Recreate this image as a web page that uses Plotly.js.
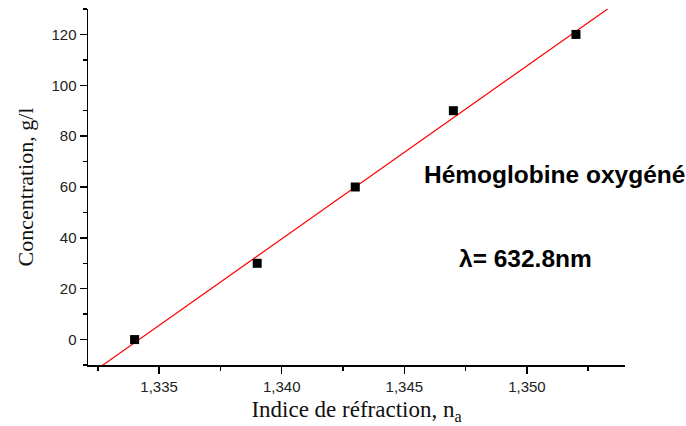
<!DOCTYPE html>
<html>
<head>
<meta charset="utf-8">
<script src="https://cdn.plot.ly/plotly-3.0.1.min.js"></script>
<style>html,body{margin:0;padding:0;background:#fff;}#chart{width:686px;height:426px;}</style>
</head>
<body>
<div id="chart"></div>
<script>
// Data
const refractiveIndex = [1.334, 1.339, 1.343, 1.347, 1.352];
const concentration = [0, 30, 60, 90, 120];
const xRange = [1.3321, 1.354];
const yRange = [-10, 130];
const yTicks = [0, 20, 40, 60, 80, 100, 120];
const xTicks = [1.335, 1.340, 1.345, 1.350];
const sampleLabel = "Hémoglobine oxygéné";
const wavelengthLabel = "λ= 632.8nm";

// Linear least-squares fit (as in the original Origin plot)
const n = refractiveIndex.length;
const mx = refractiveIndex.reduce((a, b) => a + b, 0) / n;
const my = concentration.reduce((a, b) => a + b, 0) / n;
let sxy = 0, sxx = 0;
for (let i = 0; i < n; i++) {
  sxy += (refractiveIndex[i] - mx) * (concentration[i] - my);
  sxx += (refractiveIndex[i] - mx) ** 2;
}
const slope = sxy / sxx;
const intercept = my - slope * mx;
const fitX = [xRange[0], xRange[1]];
const fitY = fitX.map(x => intercept + slope * x);

const traces = [
  {
    x: fitX, y: fitY, mode: 'lines', type: 'scatter',
    line: {color: '#ff0000', width: 1.2},
    hoverinfo: 'skip', showlegend: false
  },
  {
    x: refractiveIndex, y: concentration, mode: 'markers', type: 'scatter',
    marker: {symbol: 'square', size: 9, color: '#000000'},
    showlegend: false, cliponaxis: false
  }
];

const axisCommon = {
  showline: true, linecolor: '#000', linewidth: 1.5,
  ticks: 'outside', ticklen: 7, tickwidth: 1.5, tickcolor: '#000',
  showgrid: false, zeroline: false, mirror: false,
  tickfont: {family: 'Liberation Sans, Arial, sans-serif', size: 15, color: '#222'}
};

const layout = {
  width: 686, height: 426,
  margin: {l: 88, r: 61, t: 9, b: 61},
  paper_bgcolor: '#fff', plot_bgcolor: '#fff',
  separators: ',.',
  xaxis: Object.assign({}, axisCommon, {
    range: xRange, tickmode: 'array', tickvals: xTicks,
    tickformat: '.3f',
    minor: {ticks: 'outside', ticklen: 4, tickwidth: 1.5, tickcolor: '#000', dtick: 0.0025, tick0: 1.3325},
    title: {text: 'Indice de réfraction, n<sub>a</sub>', standoff: 7,
      font: {family: 'Liberation Serif, Times New Roman, serif', size: 23, color: '#111'}}
  }),
  yaxis: Object.assign({}, axisCommon, {
    range: yRange, tickmode: 'array', tickvals: yTicks,
    minor: {ticks: 'outside', ticklen: 4, tickwidth: 1.5, tickcolor: '#000', dtick: 10, tick0: 0},
    title: {text: 'Concentration, g/l', standoff: 12,
      font: {family: 'Liberation Serif, Times New Roman, serif', size: 22, color: '#111'}}
  }),
  annotations: [
    {text: sampleLabel, xref: 'paper', yref: 'paper', x: 0.622, y: 0.534,
      xanchor: 'left', yanchor: 'middle', showarrow: false,
      font: {family: 'Liberation Sans, Arial, sans-serif', size: 24.5, color: '#000', weight: 'bold'}},
    {text: wavelengthLabel, xref: 'paper', yref: 'paper', x: 0.687, y: 0.298,
      xanchor: 'left', yanchor: 'middle', showarrow: false,
      font: {family: 'Liberation Sans, Arial, sans-serif', size: 24.5, color: '#000', weight: 'bold'}}
  ]
};

Plotly.newPlot('chart', traces, layout, {displayModeBar: false, staticPlot: true});
</script>
</body>
</html>
